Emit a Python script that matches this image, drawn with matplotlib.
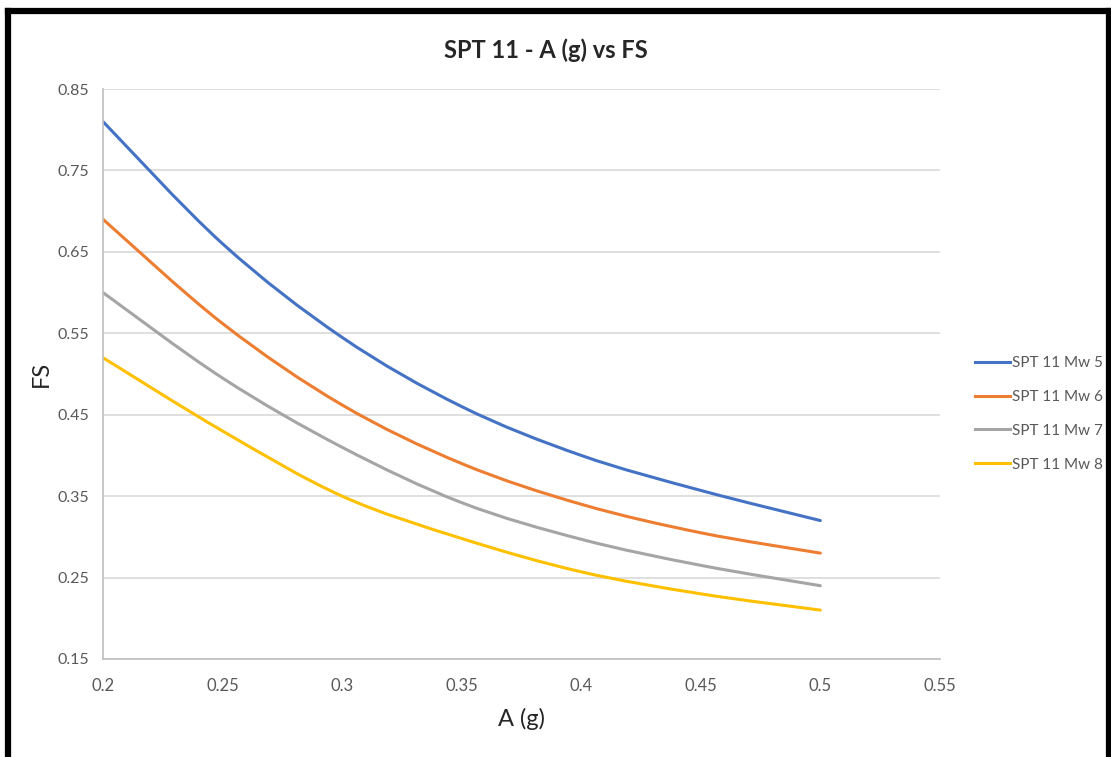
import matplotlib
matplotlib.use("Agg")
import matplotlib.pyplot as plt
from matplotlib.path import Path
from matplotlib.patches import PathPatch
from matplotlib.lines import Line2D

plt.rcParams['font.family'] = ['Lato', 'DejaVu Sans']

accel = [0.2, 0.25, 0.3, 0.35, 0.4, 0.45, 0.5]
fs_mw5 = [0.81, 0.66, 0.545, 0.46, 0.40, 0.357, 0.32]
fs_mw6 = [0.69, 0.562, 0.462, 0.39, 0.34, 0.305, 0.28]
fs_mw7 = [0.60, 0.495, 0.41, 0.342, 0.297, 0.265, 0.24]
fs_mw8 = [0.52, 0.43, 0.35, 0.298, 0.257, 0.23, 0.21]
labels = ["SPT 11 Mw 5", "SPT 11 Mw 6", "SPT 11 Mw 7", "SPT 11 Mw 8"]
colors = ["#4472C4", "#ED7D31", "#A5A5A5", "#FFC000"]
x_ticks = [0.2, 0.25, 0.3, 0.35, 0.4, 0.45, 0.5, 0.55]
y_ticks = [0.15, 0.25, 0.35, 0.45, 0.55, 0.65, 0.75, 0.85]


def smooth_path(xs, ys):
    # excel-like smoothed line: cubic bezier through the points
    verts = [(xs[0], ys[0])]
    codes = [Path.MOVETO]
    n = len(xs)
    for i in range(n - 1):
        x0, y0 = xs[max(i - 1, 0)], ys[max(i - 1, 0)]
        x1, y1 = xs[i], ys[i]
        x2, y2 = xs[i + 1], ys[i + 1]
        x3, y3 = xs[min(i + 2, n - 1)], ys[min(i + 2, n - 1)]
        c1 = (x1 + (x2 - x0) / 6, y1 + (y2 - y0) / 6)
        c2 = (x2 - (x3 - x1) / 6, y2 - (y3 - y1) / 6)
        verts += [c1, c2, (x2, y2)]
        codes += [Path.CURVE4] * 3
    return Path(verts, codes)


fig = plt.figure(figsize=(11.11, 7.57), dpi=100)
ax = fig.add_axes([0.0927, 0.1295, 0.7533, 0.7529])

for ys, c, lab in zip([fs_mw5, fs_mw6, fs_mw7, fs_mw8], colors, labels):
    ax.add_patch(PathPatch(smooth_path(accel, ys), fill=False, ec=c, lw=2.2,
                           capstyle='round'))
    ax.plot([], [], color=c, lw=2.2, label=lab)

ax.set_xlim(0.2, 0.55)
ax.set_ylim(0.15, 0.85)
ax.set_xticks(x_ticks)
ax.set_xticklabels([f"{v:g}" for v in x_ticks])
ax.set_yticks(y_ticks)
ax.set_yticklabels([f"{v:g}" for v in y_ticks])
ax.tick_params(axis='x', length=0, labelsize=12, colors="#595959", pad=14)
ax.tick_params(axis='y', length=0, labelsize=11.5, colors="#595959", pad=10)
ax.grid(axis='y', color="#D9D9D9", lw=1.2)
ax.set_axisbelow(True)
for s in ['top', 'right']:
    ax.spines[s].set_visible(False)
for s in ['left', 'bottom']:
    ax.spines[s].set_color("#BFBFBF")
    ax.spines[s].set_linewidth(1.2)

fig.text(0.4915, 0.934, "SPT 11 - A (g) vs FS", fontsize=17, fontweight='bold',
         color="#262626", ha='center', va='center')
ax.set_xlabel("A (g)", fontsize=17, color="#262626", labelpad=10)
ax.set_ylabel("FS", fontsize=17, color="#262626", labelpad=4)

ax.legend(loc='center left', bbox_to_anchor=(1.042, 0.43), frameon=False,
          fontsize=11, labelcolor="#595959", handlelength=2.3,
          handletextpad=0.15, labelspacing=1.3, borderpad=0, borderaxespad=0)

# black frame around the picture
fig.add_artist(Line2D([0.0072, 0.0072], [0, 0.9855], color='black', lw=4.5,
                      transform=fig.transFigure))
fig.add_artist(Line2D([0.0072, 0.998], [0.9855, 0.9855], color='black', lw=4.5,
                      transform=fig.transFigure))
fig.add_artist(Line2D([0.998, 0.998], [0, 0.9855], color='black', lw=4.5,
                      transform=fig.transFigure))

fig.savefig("out.png", dpi=100)
